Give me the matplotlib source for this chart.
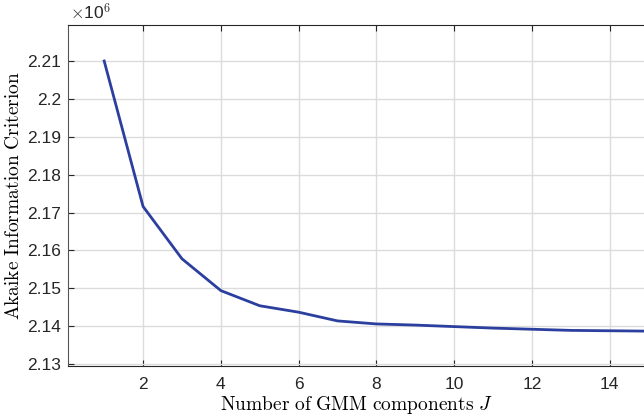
import numpy as np
import matplotlib
matplotlib.use('Agg')
import matplotlib.pyplot as plt
from matplotlib.ticker import FuncFormatter

# AIC vs number of GMM components
n_components = [1, 2, 3, 4, 5, 6, 7, 8, 9, 10, 11, 12, 13, 14, 15]
aic = [2.2100, 2.1716, 2.1578, 2.1494, 2.1454, 2.1437, 2.1414, 2.1406,
       2.1403, 2.1399, 2.1395, 2.1392, 2.1389, 2.1388, 2.1387]
aic = [v * 1e6 for v in aic]

x_ticks = [2, 4, 6, 8, 10, 12, 14]
y_ticks = [2.13e6, 2.14e6, 2.15e6, 2.16e6, 2.17e6, 2.18e6, 2.19e6, 2.20e6, 2.21e6]

plt.rcParams['font.family'] = ['Liberation Sans', 'DejaVu Sans']
plt.rcParams['mathtext.fontset'] = 'cm'

fig = plt.figure(figsize=(6.44, 4.18), dpi=100)
ax = fig.add_axes([68 / 644, 1 - 366 / 418, (644 - 68) / 644, (366 - 25) / 418])

ax.plot(n_components, aic, color='#2b3f9e', lw=2.0, clip_on=True)

ax.set_xlim(0.07, 14.88)
ax.set_ylim(2.1295e6, 2.2195e6)
ax.set_xticks(x_ticks)
ax.set_yticks(y_ticks)
ax.yaxis.set_major_formatter(FuncFormatter(lambda v, p: '%g' % round(v / 1e6, 4)))

ax.grid(True, color='#dcdcdc', lw=1.0)
ax.set_axisbelow(True)
ax.tick_params(direction='in', length=4, width=0.8, labelsize=12.5, colors='#262626',
               top=True, right=False)
ax.tick_params(axis='x', pad=8)
ax.tick_params(axis='y', pad=5)
for s in ['left', 'bottom', 'top']:
    ax.spines[s].set_color('#262626')
    ax.spines[s].set_linewidth(0.8)
ax.spines['left'].set_color('#555555')
ax.spines['right'].set_visible(False)

ax.set_xlabel(r'$\mathrm{Number\ of\ GMM\ components}\ J$', fontsize=14, labelpad=1)
ax.set_ylabel(r'$\mathrm{Akaike\ Information\ Criterion}$', fontsize=14, labelpad=3)

fig.text(70 / 644, 1 - 19 / 418, r'$\times$10$^6$', fontsize=12.5, color='#262626',
         ha='left', va='baseline')

fig.savefig('out.png', dpi=100)
